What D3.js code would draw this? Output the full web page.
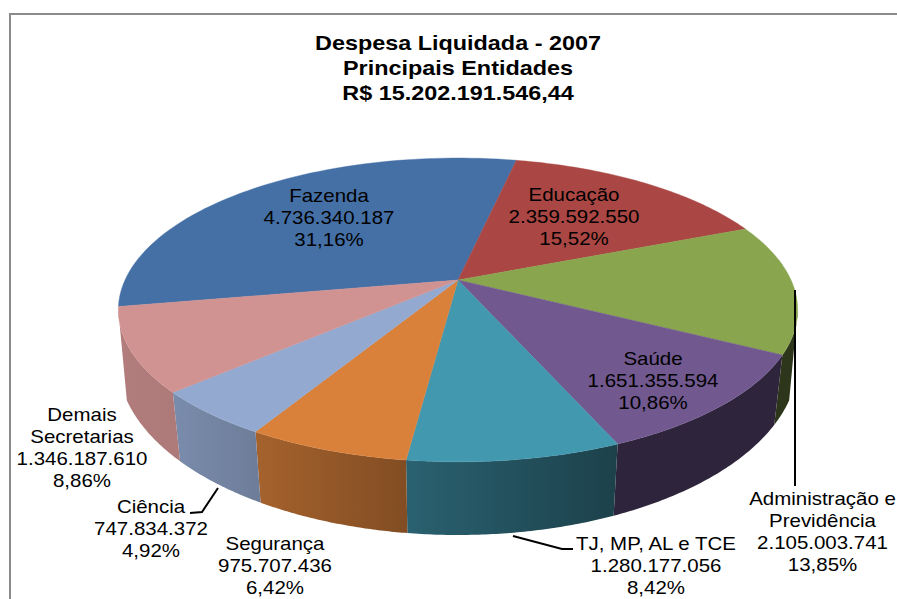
<!DOCTYPE html>
<html><head><meta charset="utf-8">
<script src="https://cdnjs.cloudflare.com/ajax/libs/d3/7.8.5/d3.min.js"></script>
<style>html,body{margin:0;padding:0;background:#fff}svg{display:block}text{font-family:"Liberation Sans",Arial,sans-serif;fill:#000}</style>
</head><body><div id="c"></div>
<script>
const titleLines = ["Despesa Liquidada - 2007","Principais Entidades","R$ 15.202.191.546,44"];
const categories = [["Fazenda"],["Educação"],["Administração e","Previdência"],["Saúde"],["TJ, MP, AL e TCE"],["Segurança"],["Ciência"],["Demais","Secretarias"]];
const values = [4736340187,2359592550,2105003741,1651355594,1280177056,975707436,747834372,1346187610];
const percents = [31.16,15.52,13.85,10.86,8.42,6.42,4.92,8.86];
const colors = ["#4570a6","#aa4643","#89a54e","#71588f","#4198af","#d9813b","#93a9cf","#d19392"];

// layout only
const W=897,H=599;
const sideShade=[[.5,.5],[.5,.5],[.33,.33],[.41,.41],[.64,.43],[.76,.6],[.83,.74],[.85,.83]];
const labelPos=[[329,196],[574,195],[822.5,499],[653,359],[656,544],[275,544],[151,507],[82,415]];
const leaders=[[[795,290],[795,486]],[[218,488],[202,512],[190,513]],[[513,536],[562,549],[573,549]]];

const svg=d3.select("#c").append("svg").attr("width",W).attr("height",H);
svg.append("path").attr("d",`M10 ${H}V14H${W}`).attr("fill","none").attr("stroke","#8a8a8a").attr("stroke-width",2);

const fmt=d3.formatLocale({decimal:",",thousands:".",grouping:[3],currency:["R$",""]});
const fmtV=fmt.format(",d"), fmtP=fmt.format(".2f");

// perspective projection of the pie's top disc
const rad=Math.PI/180;
const cx=458,cy=280,A=333,B=146,p=.197;
const topPt=t=>{const u=Math.sin(t),v=Math.cos(t),w=1+p*v;return [cx+A*u/w,cy-B*v/w];};
// bottom rim
const k=.975,by=361,bb=174,ba=340;
const bottomPt=t=>{const q=topPt(t),dx=(q[0]-cx)*k,r=Math.max(0,1-(dx/ba)*(dx/ba));return [cx+dx,by+bb*Math.sqrt(r)];};

const pie=d3.pie().sort(null).startAngle(-100.1*rad).endAngle(259.9*rad);
const arcs=pie(values);
const line=d3.line();
const samples=(a,b)=>d3.range(0,61).map(i=>a+(b-a)*i/60);

const tR=Math.acos(-p), tL=2*Math.PI-Math.acos(-p);
const defs=svg.append("defs");
arcs.forEach((d,i)=>{
  const a=Math.max(d.startAngle,tR), b=Math.min(d.endAngle,tL);
  if(b<=a) return;
  const ta=samples(a,b), pts=ta.map(topPt).concat(ta.slice().reverse().map(bottomPt));
  const x0=d3.min(pts,q=>q[0]), x1=d3.max(pts,q=>q[0]);
  const c=d3.color(colors[i]);
  const g=defs.append("linearGradient").attr("id","s"+i).attr("gradientUnits","userSpaceOnUse").attr("x1",x0).attr("x2",x1).attr("y1",0).attr("y2",0);
  sideShade[i].forEach((s,j)=>g.append("stop").attr("offset",j).attr("stop-color",d3.rgb(c.r*s,c.g*s,c.b*s)));
  svg.append("path").attr("d",line(pts)+"Z").attr("fill",`url(#s${i})`);
});
arcs.forEach((d,i)=>{
  const pts=[[cx,cy]].concat(samples(d.startAngle,d.endAngle).map(topPt));
  svg.append("path").attr("d",line(pts)+"Z").attr("fill",colors[i]).attr("stroke",colors[i]).attr("stroke-width",.4);
});
leaders.forEach(l=>svg.append("path").attr("d",line(l)).attr("fill","none").attr("stroke","#000").attr("stroke-width",2));

function txt(x,y,s,size,sx,bold){
  svg.append("text").attr("transform",`translate(${x},${y}) scale(${sx},1)`).attr("text-anchor","middle").attr("dominant-baseline","central")
    .attr("font-size",size).attr("font-weight",bold?"bold":"normal").text(s);
}
titleLines.forEach((s,i)=>txt(458,43+i*25.3,s,20,1.17,true));
arcs.forEach((d,i)=>{
  const lines=categories[i].concat([fmtV(values[i]),fmtP(percents[i])+"%"]);
  lines.forEach((s,j)=>txt(labelPos[i][0],labelPos[i][1]+j*22,s,17.5,1.17,false));
});
</script></body></html>
